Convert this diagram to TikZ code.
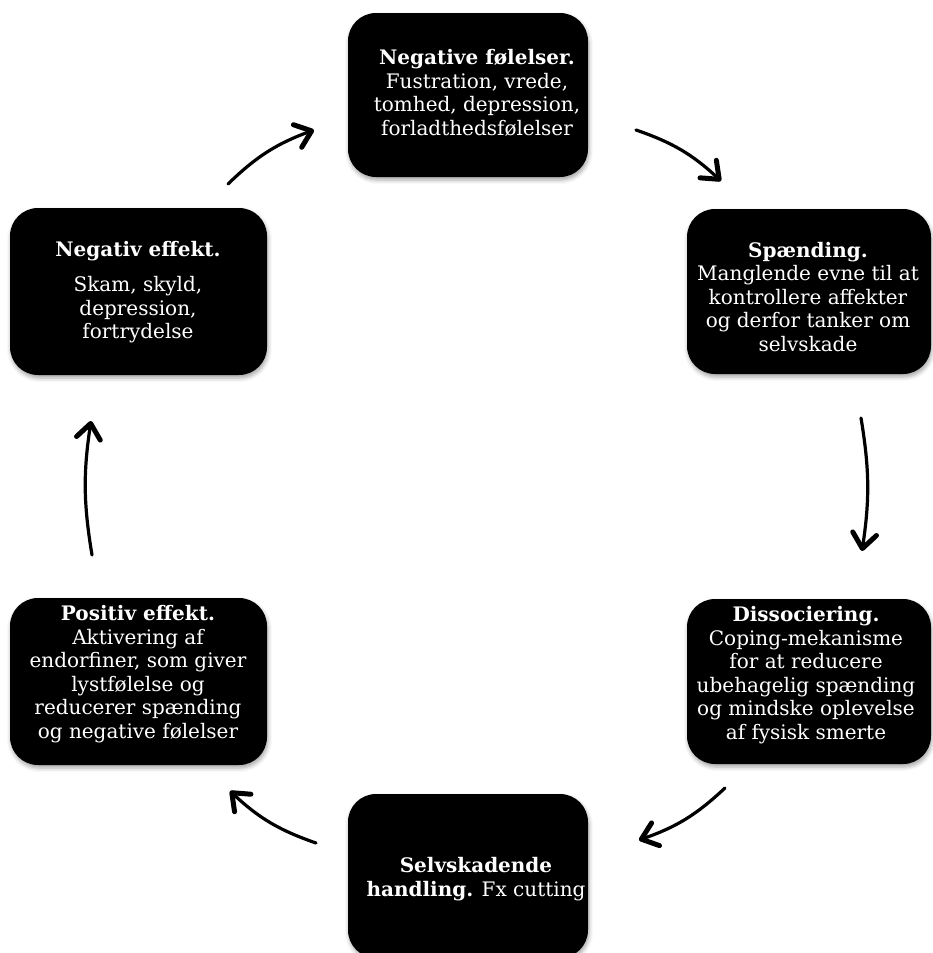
\documentclass[tikz,border=0pt]{standalone}
\usepackage{fontspec}
\setmainfont{DejaVu Serif}
\usetikzlibrary{arrows.meta,shadows.blur}

\begin{document}
\begin{tikzpicture}[x=1pt,y=-1pt,
    cell/.style={fill=black, rounded corners=28pt, inner sep=0pt,
      blur shadow={shadow xshift=1pt, shadow yshift=-3pt, shadow blur radius=4pt, shadow opacity=35}},
    txt/.style={text=white, align=center, inner sep=0pt, font=\fontsize{20}{23.5}\selectfont},
    cyc/.style={line width=3.2pt, line cap=round,
      -{Straight Barb[length=15pt,width=24pt,line width=5pt,round]}, bend left=12}]
    \useasboundingbox (0,0) rectangle (932,953);

    \node[cell, minimum width=240, minimum height=164] (negfol) at (468,95) {};
    \node[cell, minimum width=244, minimum height=165] (spaend) at (809,291.5) {};
    \node[cell, minimum width=244, minimum height=165] (dissoc) at (809,681.5) {};
    \node[cell, minimum width=240, minimum height=164] (selvsk) at (468,876) {};
    \node[cell, minimum width=257, minimum height=167] (poseff) at (138.5,681.5) {};
    \node[cell, minimum width=257, minimum height=167] (negeff) at (138.5,291.5) {};

    \node[txt] (negfoltxt) at (477,93)
      {\textbf{Negative følelser.}\\Fustration, vrede,\\tomhed, depression,\\forladthedsfølelser};
    \node[txt] (spaendtxt) at (808,297)
      {\textbf{Spænding.}\\Manglende evne til at\\kontrollere affekter\\og derfor tanker om\\selvskade};
    \node[txt] (dissoctxt) at (806,675)
      {\textbf{Dissociering.}\\Coping-mekanisme\\for at reducere\\ubehagelig spænding\\og mindske oplevelse\\af fysisk smerte};
    \node[txt] (selvsktxt) at (476,879)
      {\textbf{Selvskadende}\\\textbf{handling.} Fx cutting};
    \node[txt] (posefftxt) at (138,674)
      {\textbf{Positiv effekt.}\\Aktivering af\\endorfiner, som giver\\lystfølelse og\\reducerer spænding\\og negative følelser};
    \node[txt] (negefftxt) at (138,292)
      {\textbf{Negativ effekt.}\\[12pt]Skam, skyld,\\depression,\\fortrydelse};

    \coordinate (a1s) at (636,130);  \coordinate (a1e) at (721,181);
    \coordinate (a2s) at (861,418);  \coordinate (a2e) at (862,551);
    \coordinate (a3s) at (725,788);  \coordinate (a3e) at (639,840);
    \coordinate (a4s) at (316,843);  \coordinate (a4e) at (230,791);
    \coordinate (a5s) at (92,555);   \coordinate (a5e) at (91,421);
    \coordinate (a6s) at (228,184);  \coordinate (a6e) at (314,130);

    \draw[cyc] (a1s) to (a1e);
    \draw[cyc, bend left=9] (a2s) to (a2e);
    \draw[cyc] (a3s) to (a3e);
    \draw[cyc] (a4s) to (a4e);
    \draw[cyc, bend left=9] (a5s) to (a5e);
    \draw[cyc] (a6s) to (a6e);
  \end{tikzpicture}
\end{document}
